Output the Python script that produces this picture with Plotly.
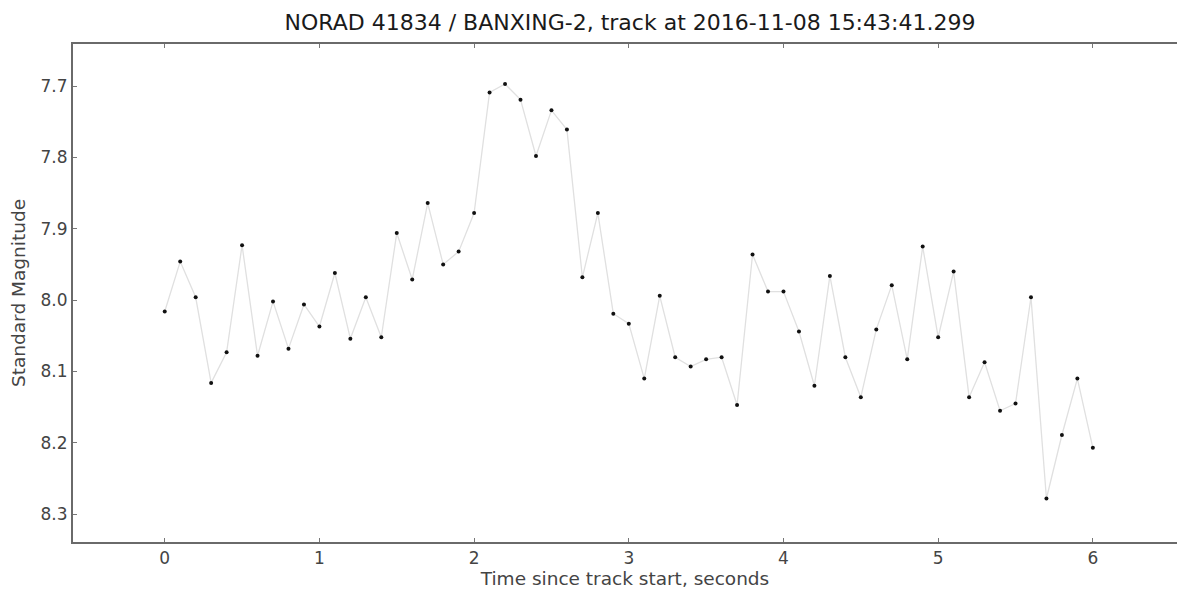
import plotly.graph_objects as go

time_s = [round(i * 0.1, 1) for i in range(61)]
magnitude = [
    8.016, 7.946, 7.996, 8.116, 8.073, 7.923, 8.078, 8.002, 8.068, 8.006,
    8.037, 7.962, 8.054, 7.996, 8.052, 7.906, 7.971, 7.864, 7.950, 7.932,
    7.878, 7.709, 7.697, 7.719, 7.798, 7.734, 7.761, 7.968, 7.878, 8.019,
    8.033, 8.110, 7.994, 8.080, 8.093, 8.083, 8.080, 8.147, 7.936, 7.988,
    7.988, 8.044, 8.120, 7.966, 8.080, 8.136, 8.041, 7.979, 8.083, 7.925,
    8.052, 7.960, 8.136, 8.087, 8.155, 8.145, 7.996, 8.278, 8.189, 8.110,
    8.207,
]
x_ticks = [0, 1, 2, 3, 4, 5, 6]
y_ticks = [7.7, 7.8, 7.9, 8.0, 8.1, 8.2, 8.3]

fig = go.Figure()
fig.add_trace(go.Scatter(
    x=time_s, y=magnitude, mode="lines+markers",
    line=dict(color="#e0e0e0", width=1.3),
    marker=dict(color="#111111", size=4, symbol="circle"),
    showlegend=False,
))

tick_font = dict(family="DejaVu Sans", size=17, color="#444444")
title_font = dict(family="DejaVu Sans", size=18.5, color="#444444")
fig.update_layout(
    width=1177, height=589,
    margin=dict(l=73, r=0, t=44, b=47),
    paper_bgcolor="white", plot_bgcolor="white",
    title=dict(text="NORAD 41834 / BANXING-2, track at 2016-11-08 15:43:41.299",
               x=630 / 1177, xanchor="center", xref="container",
               y=1 - 22 / 589, yanchor="middle",
               font=dict(family="DejaVu Sans", size=22, color="#1a1a1a")),
    xaxis=dict(range=[-0.593, 6.544], tickvals=x_ticks, ticktext=[str(v) for v in x_ticks],
               showgrid=False, zeroline=False, showline=True, linecolor="#6a6a6a", linewidth=2,
               mirror="ticks", ticks="inside", ticklen=4, tickcolor="#777777", tickwidth=1,
               tickfont=tick_font,
               title=dict(text="Time since track start, seconds", font=title_font, standoff=5)),
    yaxis=dict(range=[8.339, 7.641], tickvals=y_ticks, ticktext=[f"{v:.1f}" for v in y_ticks],
               showgrid=False, zeroline=False, showline=True, linecolor="#6a6a6a", linewidth=2,
               ticks="inside", ticklen=4, tickcolor="#777777", tickwidth=1,
               tickfont=tick_font,
               title=dict(text="Standard Magnitude", font=title_font, standoff=10)),
)

fig.write_html("out.html")
